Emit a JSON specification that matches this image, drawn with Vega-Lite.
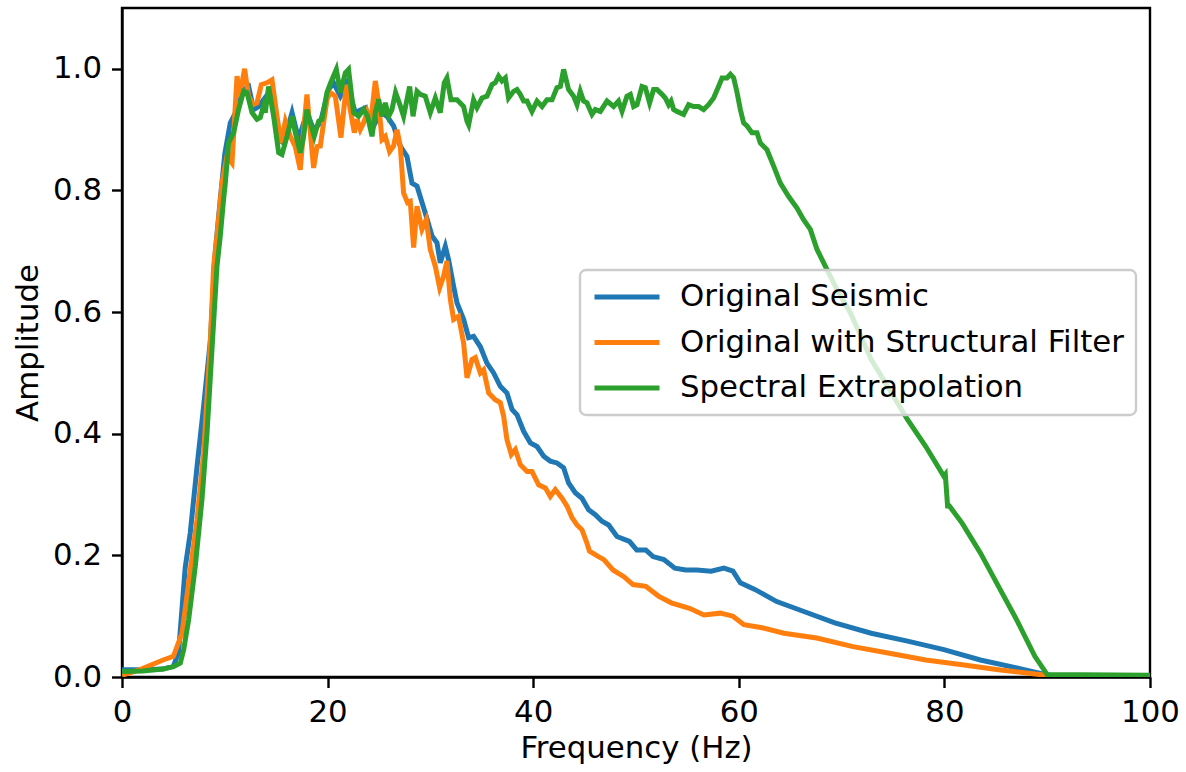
{
  "$schema": "https://vega.github.io/schema/vega-lite/v6.json",
  "width": 1028,
  "height": 669,
  "autosize": {"type": "none"},
  "padding": {"left": 122, "top": 8, "right": 36, "bottom": 95},
  "background": "white",
  "config": {
    "font": "DejaVu Sans",
    "view": {"stroke": "black", "strokeWidth": 2.4},
    "axis": {
      "domainColor": "black", "domainWidth": 2.4,
      "tickColor": "black", "tickWidth": 2.4, "tickSize": 10.5,
      "labelFont": "DejaVu Sans", "labelFontSize": 30.8, "labelColor": "black", "labelPadding": 10,
      "titleFont": "DejaVu Sans", "titleFontSize": 30.8, "titleFontWeight": "normal", "titleColor": "black",
      "grid": false, "labelFlush": false
    },
    "legend": {
      "labelFont": "DejaVu Sans", "labelFontSize": 30.8, "labelColor": "black", "strokeWidth": 2.4
    }
  },
  "data": {"values": [
    {"s":"Original Seismic","f":0,"a":0.012},{"s":"Original Seismic","f":2,"a":0.012},{"s":"Original Seismic","f":4,"a":0.013},{"s":"Original Seismic","f":5,"a":0.018},{"s":"Original Seismic","f":5.5,"a":0.04},{"s":"Original Seismic","f":6.15,"a":0.18},{"s":"Original Seismic","f":6.64,"a":0.237},{"s":"Original Seismic","f":7.3,"a":0.346},{"s":"Original Seismic","f":7.94,"a":0.445},{"s":"Original Seismic","f":8.6,"a":0.554},{"s":"Original Seismic","f":9.08,"a":0.70},{"s":"Original Seismic","f":9.56,"a":0.785},{"s":"Original Seismic","f":10.0,"a":0.86},{"s":"Original Seismic","f":10.53,"a":0.911},{"s":"Original Seismic","f":11.19,"a":0.933},{"s":"Original Seismic","f":11.83,"a":0.966},{"s":"Original Seismic","f":12.32,"a":0.971},{"s":"Original Seismic","f":12.8,"a":0.933},{"s":"Original Seismic","f":13.29,"a":0.938},{"s":"Original Seismic","f":13.77,"a":0.949},{"s":"Original Seismic","f":14.26,"a":0.960},{"s":"Original Seismic","f":14.75,"a":0.938},{"s":"Original Seismic","f":15.24,"a":0.884},{"s":"Original Seismic","f":15.72,"a":0.878},{"s":"Original Seismic","f":16.54,"a":0.928},{"s":"Original Seismic","f":17.18,"a":0.884},{"s":"Original Seismic","f":17.99,"a":0.928},{"s":"Original Seismic","f":18.64,"a":0.900},{"s":"Original Seismic","f":19.29,"a":0.911},{"s":"Original Seismic","f":20.1,"a":0.966},{"s":"Original Seismic","f":20.58,"a":0.977},{"s":"Original Seismic","f":21.24,"a":0.955},{"s":"Original Seismic","f":21.89,"a":0.977},{"s":"Original Seismic","f":22.69,"a":0.928},{"s":"Original Seismic","f":23.67,"a":0.936},{"s":"Original Seismic","f":24.48,"a":0.906},{"s":"Original Seismic","f":25.13,"a":0.928},{"s":"Original Seismic","f":25.78,"a":0.922},{"s":"Original Seismic","f":26.42,"a":0.906},{"s":"Original Seismic","f":27.07,"a":0.873},{"s":"Original Seismic","f":27.72,"a":0.856},{"s":"Original Seismic","f":28.21,"a":0.812},{"s":"Original Seismic","f":28.7,"a":0.807},{"s":"Original Seismic","f":29.5,"a":0.763},{"s":"Original Seismic","f":30.16,"a":0.725},{"s":"Original Seismic","f":30.64,"a":0.714},{"s":"Original Seismic","f":30.96,"a":0.681},{"s":"Original Seismic","f":31.45,"a":0.708},{"s":"Original Seismic","f":31.77,"a":0.686},{"s":"Original Seismic","f":32.26,"a":0.642},{"s":"Original Seismic","f":32.59,"a":0.615},{"s":"Original Seismic","f":33.23,"a":0.588},{"s":"Original Seismic","f":33.72,"a":0.558},{"s":"Original Seismic","f":34.2,"a":0.560},{"s":"Original Seismic","f":34.86,"a":0.543},{"s":"Original Seismic","f":35.5,"a":0.516},{"s":"Original Seismic","f":36.15,"a":0.500},{"s":"Original Seismic","f":36.8,"a":0.478},{"s":"Original Seismic","f":37.45,"a":0.467},{"s":"Original Seismic","f":37.94,"a":0.44},{"s":"Original Seismic","f":38.43,"a":0.431},{"s":"Original Seismic","f":39.07,"a":0.404},{"s":"Original Seismic","f":39.72,"a":0.385},{"s":"Original Seismic","f":40.37,"a":0.379},{"s":"Original Seismic","f":41.02,"a":0.363},{"s":"Original Seismic","f":41.66,"a":0.355},{"s":"Original Seismic","f":42.31,"a":0.352},{"s":"Original Seismic","f":42.96,"a":0.344},{"s":"Original Seismic","f":43.44,"a":0.319},{"s":"Original Seismic","f":44.09,"a":0.303},{"s":"Original Seismic","f":44.74,"a":0.294},{"s":"Original Seismic","f":45.39,"a":0.275},{"s":"Original Seismic","f":46.04,"a":0.267},{"s":"Original Seismic","f":46.69,"a":0.256},{"s":"Original Seismic","f":47.34,"a":0.250},{"s":"Original Seismic","f":48.15,"a":0.231},{"s":"Original Seismic","f":49.36,"a":0.223},{"s":"Original Seismic","f":50.07,"a":0.209},{"s":"Original Seismic","f":50.95,"a":0.209},{"s":"Original Seismic","f":51.66,"a":0.198},{"s":"Original Seismic","f":52.71,"a":0.193},{"s":"Original Seismic","f":53.78,"a":0.179},{"s":"Original Seismic","f":54.84,"a":0.176},{"s":"Original Seismic","f":55.9,"a":0.176},{"s":"Original Seismic","f":57.31,"a":0.174},{"s":"Original Seismic","f":58.55,"a":0.179},{"s":"Original Seismic","f":59.43,"a":0.174},{"s":"Original Seismic","f":60.15,"a":0.155},{"s":"Original Seismic","f":61.56,"a":0.144},{"s":"Original Seismic","f":63.69,"a":0.124},{"s":"Original Seismic","f":65.8,"a":0.111},{"s":"Original Seismic","f":69.34,"a":0.089},{"s":"Original Seismic","f":72.88,"a":0.072},{"s":"Original Seismic","f":76.42,"a":0.059},{"s":"Original Seismic","f":79.95,"a":0.045},{"s":"Original Seismic","f":83.5,"a":0.028},{"s":"Original Seismic","f":87.03,"a":0.015},{"s":"Original Seismic","f":89.87,"a":0.004},{"s":"Original Seismic","f":90.5,"a":0.002},{"s":"Original Seismic","f":100,"a":0.002},

    {"s":"Original with Structural Filter","f":0,"a":0.003},{"s":"Original with Structural Filter","f":1,"a":0.008},{"s":"Original with Structural Filter","f":2,"a":0.014},{"s":"Original with Structural Filter","f":3,"a":0.021},{"s":"Original with Structural Filter","f":4,"a":0.028},{"s":"Original with Structural Filter","f":5,"a":0.034},{"s":"Original with Structural Filter","f":5.84,"a":0.072},{"s":"Original with Structural Filter","f":6.48,"a":0.155},{"s":"Original with Structural Filter","f":7.3,"a":0.259},{"s":"Original with Structural Filter","f":7.94,"a":0.368},{"s":"Original with Structural Filter","f":8.42,"a":0.5},{"s":"Original with Structural Filter","f":8.59,"a":0.549},{"s":"Original with Structural Filter","f":8.91,"a":0.675},{"s":"Original with Structural Filter","f":9.24,"a":0.725},{"s":"Original with Structural Filter","f":9.73,"a":0.812},{"s":"Original with Structural Filter","f":10.21,"a":0.856},{"s":"Original with Structural Filter","f":10.7,"a":0.845},{"s":"Original with Structural Filter","f":11.19,"a":0.988},{"s":"Original with Structural Filter","f":11.44,"a":0.955},{"s":"Original with Structural Filter","f":11.93,"a":1.0},{"s":"Original with Structural Filter","f":12.3,"a":0.955},{"s":"Original with Structural Filter","f":12.74,"a":0.941},{"s":"Original with Structural Filter","f":13.13,"a":0.944},{"s":"Original with Structural Filter","f":13.55,"a":0.974},{"s":"Original with Structural Filter","f":14.1,"a":0.977},{"s":"Original with Structural Filter","f":14.59,"a":0.982},{"s":"Original with Structural Filter","f":15.08,"a":0.922},{"s":"Original with Structural Filter","f":15.47,"a":0.878},{"s":"Original with Structural Filter","f":15.89,"a":0.914},{"s":"Original with Structural Filter","f":16.37,"a":0.889},{"s":"Original with Structural Filter","f":16.86,"a":0.872},{"s":"Original with Structural Filter","f":17.34,"a":0.834},{"s":"Original with Structural Filter","f":17.67,"a":0.900},{"s":"Original with Structural Filter","f":17.99,"a":0.958},{"s":"Original with Structural Filter","f":18.32,"a":0.895},{"s":"Original with Structural Filter","f":18.64,"a":0.837},{"s":"Original with Structural Filter","f":18.97,"a":0.872},{"s":"Original with Structural Filter","f":19.29,"a":0.873},{"s":"Original with Structural Filter","f":19.61,"a":0.911},{"s":"Original with Structural Filter","f":19.94,"a":0.949},{"s":"Original with Structural Filter","f":20.26,"a":0.961},{"s":"Original with Structural Filter","f":20.75,"a":0.955},{"s":"Original with Structural Filter","f":21.3,"a":0.887},{"s":"Original with Structural Filter","f":21.82,"a":0.974},{"s":"Original with Structural Filter","f":22.2,"a":0.933},{"s":"Original with Structural Filter","f":22.6,"a":0.895},{"s":"Original with Structural Filter","f":22.86,"a":0.917},{"s":"Original with Structural Filter","f":23.18,"a":0.900},{"s":"Original with Structural Filter","f":23.5,"a":0.911},{"s":"Original with Structural Filter","f":23.83,"a":0.928},{"s":"Original with Structural Filter","f":24.15,"a":0.906},{"s":"Original with Structural Filter","f":24.64,"a":0.980},{"s":"Original with Structural Filter","f":24.96,"a":0.944},{"s":"Original with Structural Filter","f":25.29,"a":0.884},{"s":"Original with Structural Filter","f":25.61,"a":0.889},{"s":"Original with Structural Filter","f":26.03,"a":0.864},{"s":"Original with Structural Filter","f":26.42,"a":0.873},{"s":"Original with Structural Filter","f":26.75,"a":0.900},{"s":"Original with Structural Filter","f":27.07,"a":0.873},{"s":"Original with Structural Filter","f":27.39,"a":0.796},{"s":"Original with Structural Filter","f":27.78,"a":0.780},{"s":"Original with Structural Filter","f":28.04,"a":0.782},{"s":"Original with Structural Filter","f":28.37,"a":0.706},{"s":"Original with Structural Filter","f":28.7,"a":0.774},{"s":"Original with Structural Filter","f":29.18,"a":0.736},{"s":"Original with Structural Filter","f":29.6,"a":0.752},{"s":"Original with Structural Filter","f":29.99,"a":0.703},{"s":"Original with Structural Filter","f":30.48,"a":0.675},{"s":"Original with Structural Filter","f":30.9,"a":0.640},{"s":"Original with Structural Filter","f":31.28,"a":0.659},{"s":"Original with Structural Filter","f":31.61,"a":0.684},{"s":"Original with Structural Filter","f":31.94,"a":0.621},{"s":"Original with Structural Filter","f":32.26,"a":0.588},{"s":"Original with Structural Filter","f":32.74,"a":0.593},{"s":"Original with Structural Filter","f":33.23,"a":0.549},{"s":"Original with Structural Filter","f":33.56,"a":0.492},{"s":"Original with Structural Filter","f":34.05,"a":0.522},{"s":"Original with Structural Filter","f":34.37,"a":0.525},{"s":"Original with Structural Filter","f":34.86,"a":0.500},{"s":"Original with Structural Filter","f":35.18,"a":0.505},{"s":"Original with Structural Filter","f":35.67,"a":0.467},{"s":"Original with Structural Filter","f":36.31,"a":0.456},{"s":"Original with Structural Filter","f":36.8,"a":0.451},{"s":"Original with Structural Filter","f":37.12,"a":0.429},{"s":"Original with Structural Filter","f":37.45,"a":0.390},{"s":"Original with Structural Filter","f":37.87,"a":0.366},{"s":"Original with Structural Filter","f":38.26,"a":0.374},{"s":"Original with Structural Filter","f":38.75,"a":0.349},{"s":"Original with Structural Filter","f":39.4,"a":0.338},{"s":"Original with Structural Filter","f":39.88,"a":0.338},{"s":"Original with Structural Filter","f":40.53,"a":0.316},{"s":"Original with Structural Filter","f":41.18,"a":0.311},{"s":"Original with Structural Filter","f":41.66,"a":0.297},{"s":"Original with Structural Filter","f":42.15,"a":0.308},{"s":"Original with Structural Filter","f":42.8,"a":0.294},{"s":"Original with Structural Filter","f":43.29,"a":0.281},{"s":"Original with Structural Filter","f":43.77,"a":0.262},{"s":"Original with Structural Filter","f":44.26,"a":0.25},{"s":"Original with Structural Filter","f":44.75,"a":0.242},{"s":"Original with Structural Filter","f":45.23,"a":0.22},{"s":"Original with Structural Filter","f":45.47,"a":0.207},{"s":"Original with Structural Filter","f":46.35,"a":0.198},{"s":"Original with Structural Filter","f":46.88,"a":0.193},{"s":"Original with Structural Filter","f":47.76,"a":0.176},{"s":"Original with Structural Filter","f":48.82,"a":0.165},{"s":"Original with Structural Filter","f":49.71,"a":0.152},{"s":"Original with Structural Filter","f":50.95,"a":0.149},{"s":"Original with Structural Filter","f":52.19,"a":0.133},{"s":"Original with Structural Filter","f":53.43,"a":0.122},{"s":"Original with Structural Filter","f":55.2,"a":0.113},{"s":"Original with Structural Filter","f":56.61,"a":0.102},{"s":"Original with Structural Filter","f":58.2,"a":0.105},{"s":"Original with Structural Filter","f":59.43,"a":0.1},{"s":"Original with Structural Filter","f":60.5,"a":0.086},{"s":"Original with Structural Filter","f":62.27,"a":0.081},{"s":"Original with Structural Filter","f":64.39,"a":0.072},{"s":"Original with Structural Filter","f":67.58,"a":0.064},{"s":"Original with Structural Filter","f":71.11,"a":0.050},{"s":"Original with Structural Filter","f":74.65,"a":0.039},{"s":"Original with Structural Filter","f":78.19,"a":0.028},{"s":"Original with Structural Filter","f":81.72,"a":0.020},{"s":"Original with Structural Filter","f":85.26,"a":0.012},{"s":"Original with Structural Filter","f":88.8,"a":0.005},{"s":"Original with Structural Filter","f":89.87,"a":0.003},{"s":"Original with Structural Filter","f":100,"a":0.002},

    {"s":"Spectral Extrapolation","f":0,"a":0.009},{"s":"Spectral Extrapolation","f":2,"a":0.010},{"s":"Spectral Extrapolation","f":4,"a":0.013},{"s":"Spectral Extrapolation","f":5,"a":0.017},{"s":"Spectral Extrapolation","f":5.67,"a":0.023},{"s":"Spectral Extrapolation","f":6.0,"a":0.045},{"s":"Spectral Extrapolation","f":6.48,"a":0.094},{"s":"Spectral Extrapolation","f":7.13,"a":0.182},{"s":"Spectral Extrapolation","f":7.78,"a":0.292},{"s":"Spectral Extrapolation","f":8.27,"a":0.401},{"s":"Spectral Extrapolation","f":8.75,"a":0.538},{"s":"Spectral Extrapolation","f":9.24,"a":0.675},{"s":"Spectral Extrapolation","f":9.56,"a":0.725},{"s":"Spectral Extrapolation","f":9.88,"a":0.785},{"s":"Spectral Extrapolation","f":10.05,"a":0.812},{"s":"Spectral Extrapolation","f":10.37,"a":0.878},{"s":"Spectral Extrapolation","f":10.86,"a":0.895},{"s":"Spectral Extrapolation","f":11.34,"a":0.933},{"s":"Spectral Extrapolation","f":11.83,"a":0.963},{"s":"Spectral Extrapolation","f":12.16,"a":0.961},{"s":"Spectral Extrapolation","f":12.65,"a":0.928},{"s":"Spectral Extrapolation","f":13.13,"a":0.917},{"s":"Spectral Extrapolation","f":13.45,"a":0.920},{"s":"Spectral Extrapolation","f":13.77,"a":0.939},{"s":"Spectral Extrapolation","f":13.94,"a":0.928},{"s":"Spectral Extrapolation","f":14.26,"a":0.971},{"s":"Spectral Extrapolation","f":14.75,"a":0.922},{"s":"Spectral Extrapolation","f":15.24,"a":0.862},{"s":"Spectral Extrapolation","f":15.56,"a":0.859},{"s":"Spectral Extrapolation","f":16.05,"a":0.889},{"s":"Spectral Extrapolation","f":16.54,"a":0.922},{"s":"Spectral Extrapolation","f":16.86,"a":0.895},{"s":"Spectral Extrapolation","f":17.34,"a":0.862},{"s":"Spectral Extrapolation","f":17.67,"a":0.889},{"s":"Spectral Extrapolation","f":17.99,"a":0.933},{"s":"Spectral Extrapolation","f":18.32,"a":0.911},{"s":"Spectral Extrapolation","f":18.7,"a":0.889},{"s":"Spectral Extrapolation","f":19.13,"a":0.914},{"s":"Spectral Extrapolation","f":19.46,"a":0.917},{"s":"Spectral Extrapolation","f":19.94,"a":0.961},{"s":"Spectral Extrapolation","f":20.3,"a":0.977},{"s":"Spectral Extrapolation","f":20.85,"a":0.999},{"s":"Spectral Extrapolation","f":21.24,"a":0.961},{"s":"Spectral Extrapolation","f":21.72,"a":0.993},{"s":"Spectral Extrapolation","f":22.04,"a":0.999},{"s":"Spectral Extrapolation","f":22.53,"a":0.928},{"s":"Spectral Extrapolation","f":23.02,"a":0.922},{"s":"Spectral Extrapolation","f":23.5,"a":0.933},{"s":"Spectral Extrapolation","f":23.89,"a":0.922},{"s":"Spectral Extrapolation","f":24.32,"a":0.889},{"s":"Spectral Extrapolation","f":24.64,"a":0.928},{"s":"Spectral Extrapolation","f":24.96,"a":0.95},{"s":"Spectral Extrapolation","f":25.29,"a":0.922},{"s":"Spectral Extrapolation","f":25.61,"a":0.944},{"s":"Spectral Extrapolation","f":25.94,"a":0.922},{"s":"Spectral Extrapolation","f":26.26,"a":0.933},{"s":"Spectral Extrapolation","f":26.61,"a":0.961},{"s":"Spectral Extrapolation","f":27.07,"a":0.939},{"s":"Spectral Extrapolation","f":27.39,"a":0.922},{"s":"Spectral Extrapolation","f":27.98,"a":0.971},{"s":"Spectral Extrapolation","f":28.31,"a":0.922},{"s":"Spectral Extrapolation","f":28.7,"a":0.963},{"s":"Spectral Extrapolation","f":29.0,"a":0.958},{"s":"Spectral Extrapolation","f":29.5,"a":0.955},{"s":"Spectral Extrapolation","f":29.99,"a":0.928},{"s":"Spectral Extrapolation","f":30.48,"a":0.952},{"s":"Spectral Extrapolation","f":30.96,"a":0.928},{"s":"Spectral Extrapolation","f":31.35,"a":0.977},{"s":"Spectral Extrapolation","f":31.61,"a":0.985},{"s":"Spectral Extrapolation","f":32.0,"a":0.949},{"s":"Spectral Extrapolation","f":32.59,"a":0.949},{"s":"Spectral Extrapolation","f":33.23,"a":0.938},{"s":"Spectral Extrapolation","f":33.56,"a":0.914},{"s":"Spectral Extrapolation","f":33.72,"a":0.908},{"s":"Spectral Extrapolation","f":34.2,"a":0.949},{"s":"Spectral Extrapolation","f":34.53,"a":0.936},{"s":"Spectral Extrapolation","f":35.02,"a":0.952},{"s":"Spectral Extrapolation","f":35.5,"a":0.955},{"s":"Spectral Extrapolation","f":35.99,"a":0.974},{"s":"Spectral Extrapolation","f":36.31,"a":0.977},{"s":"Spectral Extrapolation","f":36.63,"a":0.988},{"s":"Spectral Extrapolation","f":36.96,"a":0.980},{"s":"Spectral Extrapolation","f":37.29,"a":0.985},{"s":"Spectral Extrapolation","f":37.6,"a":0.952},{"s":"Spectral Extrapolation","f":38.09,"a":0.963},{"s":"Spectral Extrapolation","f":38.42,"a":0.966},{"s":"Spectral Extrapolation","f":38.74,"a":0.958},{"s":"Spectral Extrapolation","f":39.07,"a":0.947},{"s":"Spectral Extrapolation","f":39.4,"a":0.947},{"s":"Spectral Extrapolation","f":39.88,"a":0.930},{"s":"Spectral Extrapolation","f":40.37,"a":0.947},{"s":"Spectral Extrapolation","f":40.86,"a":0.938},{"s":"Spectral Extrapolation","f":41.34,"a":0.949},{"s":"Spectral Extrapolation","f":41.83,"a":0.949},{"s":"Spectral Extrapolation","f":42.31,"a":0.969},{"s":"Spectral Extrapolation","f":42.64,"a":0.971},{"s":"Spectral Extrapolation","f":42.96,"a":0.999},{"s":"Spectral Extrapolation","f":43.44,"a":0.966},{"s":"Spectral Extrapolation","f":43.93,"a":0.955},{"s":"Spectral Extrapolation","f":44.26,"a":0.941},{"s":"Spectral Extrapolation","f":44.58,"a":0.963},{"s":"Spectral Extrapolation","f":44.9,"a":0.947},{"s":"Spectral Extrapolation","f":45.23,"a":0.944},{"s":"Spectral Extrapolation","f":45.72,"a":0.925},{"s":"Spectral Extrapolation","f":46.04,"a":0.933},{"s":"Spectral Extrapolation","f":46.53,"a":0.930},{"s":"Spectral Extrapolation","f":47.18,"a":0.947},{"s":"Spectral Extrapolation","f":47.82,"a":0.938},{"s":"Spectral Extrapolation","f":48.3,"a":0.947},{"s":"Spectral Extrapolation","f":48.64,"a":0.930},{"s":"Spectral Extrapolation","f":49.12,"a":0.955},{"s":"Spectral Extrapolation","f":49.45,"a":0.958},{"s":"Spectral Extrapolation","f":49.77,"a":0.938},{"s":"Spectral Extrapolation","f":50.1,"a":0.941},{"s":"Spectral Extrapolation","f":50.58,"a":0.971},{"s":"Spectral Extrapolation","f":50.91,"a":0.969},{"s":"Spectral Extrapolation","f":51.32,"a":0.944},{"s":"Spectral Extrapolation","f":51.71,"a":0.966},{"s":"Spectral Extrapolation","f":52.04,"a":0.966},{"s":"Spectral Extrapolation","f":52.53,"a":0.958},{"s":"Spectral Extrapolation","f":52.85,"a":0.952},{"s":"Spectral Extrapolation","f":53.17,"a":0.941},{"s":"Spectral Extrapolation","f":53.41,"a":0.947},{"s":"Spectral Extrapolation","f":53.66,"a":0.933},{"s":"Spectral Extrapolation","f":53.99,"a":0.930},{"s":"Spectral Extrapolation","f":54.63,"a":0.925},{"s":"Spectral Extrapolation","f":55.12,"a":0.941},{"s":"Spectral Extrapolation","f":55.6,"a":0.938},{"s":"Spectral Extrapolation","f":56.09,"a":0.938},{"s":"Spectral Extrapolation","f":56.58,"a":0.933},{"s":"Spectral Extrapolation","f":57.06,"a":0.941},{"s":"Spectral Extrapolation","f":57.55,"a":0.952},{"s":"Spectral Extrapolation","f":58.03,"a":0.971},{"s":"Spectral Extrapolation","f":58.37,"a":0.985},{"s":"Spectral Extrapolation","f":58.85,"a":0.985},{"s":"Spectral Extrapolation","f":59.18,"a":0.991},{"s":"Spectral Extrapolation","f":59.5,"a":0.985},{"s":"Spectral Extrapolation","f":59.83,"a":0.961},{"s":"Spectral Extrapolation","f":60.15,"a":0.933},{"s":"Spectral Extrapolation","f":60.47,"a":0.911},{"s":"Spectral Extrapolation","f":60.8,"a":0.906},{"s":"Spectral Extrapolation","f":61.28,"a":0.895},{"s":"Spectral Extrapolation","f":61.77,"a":0.895},{"s":"Spectral Extrapolation","f":62.09,"a":0.878},{"s":"Spectral Extrapolation","f":62.74,"a":0.867},{"s":"Spectral Extrapolation","f":63.39,"a":0.840},{"s":"Spectral Extrapolation","f":64.04,"a":0.812},{"s":"Spectral Extrapolation","f":64.85,"a":0.790},{"s":"Spectral Extrapolation","f":65.66,"a":0.771},{"s":"Spectral Extrapolation","f":66.3,"a":0.752},{"s":"Spectral Extrapolation","f":66.96,"a":0.736},{"s":"Spectral Extrapolation","f":67.61,"a":0.703},{"s":"Spectral Extrapolation","f":68.58,"a":0.670},{"s":"Spectral Extrapolation","f":69.55,"a":0.637},{"s":"Spectral Extrapolation","f":70.85,"a":0.599},{"s":"Spectral Extrapolation","f":72.88,"a":0.522},{"s":"Spectral Extrapolation","f":74.65,"a":0.473},{"s":"Spectral Extrapolation","f":76.42,"a":0.423},{"s":"Spectral Extrapolation","f":78.19,"a":0.379},{"s":"Spectral Extrapolation","f":79.95,"a":0.330},{"s":"Spectral Extrapolation","f":80.09,"a":0.333},{"s":"Spectral Extrapolation","f":80.31,"a":0.281},{"s":"Spectral Extrapolation","f":80.49,"a":0.281},{"s":"Spectral Extrapolation","f":81.72,"a":0.253},{"s":"Spectral Extrapolation","f":83.5,"a":0.204},{"s":"Spectral Extrapolation","f":85.26,"a":0.149},{"s":"Spectral Extrapolation","f":87.03,"a":0.094},{"s":"Spectral Extrapolation","f":88.8,"a":0.034},{"s":"Spectral Extrapolation","f":90.0,"a":0.004},{"s":"Spectral Extrapolation","f":100,"a":0.003}
  ]},
  "mark": {"type": "line", "strokeWidth": 5, "clip": true},
  "encoding": {
    "x": {"field": "f", "type": "quantitative", "title": "Frequency (Hz)",
      "scale": {"domain": [0, 100], "nice": false, "zero": false},
      "axis": {"values": [0, 20, 40, 60, 80, 100], "titlePadding": 6}},
    "y": {"field": "a", "type": "quantitative", "title": "Amplitude",
      "scale": {"domain": [0, 1.1], "nice": false},
      "axis": {"values": [0, 0.2, 0.4, 0.6, 0.8, 1.0], "format": ".1f", "titlePadding": 9}},
    "color": {"field": "s", "type": "nominal", "title": null,
      "scale": {"domain": ["Original Seismic", "Original with Structural Filter", "Spectral Extrapolation"], "range": ["#1f77b4", "#ff7f0e", "#2ca02c"]},
      "legend": {"orient": "none", "legendX": 458, "legendY": 262,
        "symbolType": "stroke", "symbolSize": 4225, "symbolStrokeWidth": 5,
        "clipHeight": 30, "symbolOffset": 0,
        "labelOffset": 18, "labelLimit": 1000, "padding": 12, "rowPadding": 14.5,
        "fillColor": "rgba(255,255,255,0.8)", "strokeColor": "#cccccc", "cornerRadius": 6}}
  }
}
